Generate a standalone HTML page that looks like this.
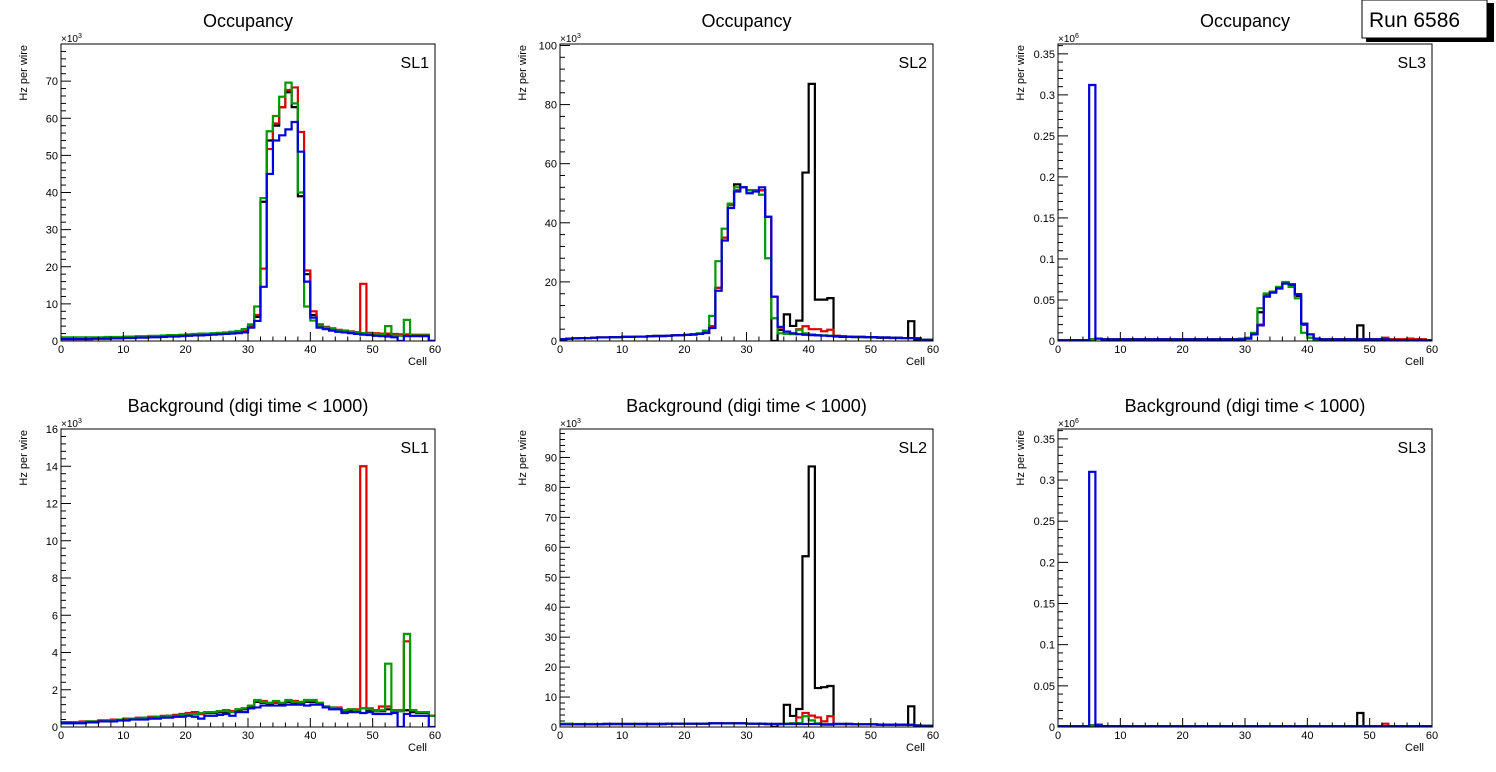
<!DOCTYPE html>
<html><head><meta charset="utf-8">
<style>
html,body{margin:0;padding:0;background:#fff;}
svg{display:block;font-family:"Liberation Sans",Arial,sans-serif;}
</style></head>
<body>
<svg id="root" width="1496" height="772" viewBox="0 0 1496 772" xmlns="http://www.w3.org/2000/svg">
<rect x="0" y="0" width="1496" height="772" fill="#fff"/>
<g>
<rect x="1366" y="3" width="128" height="39" fill="#000"/>
<rect x="1362" y="0" width="125" height="38" fill="#fff" stroke="#000" stroke-width="1"/>
<text x="1369" y="27" font-size="21" fill="#000">Run 6586</text>
</g>
</svg>
<script>
// ===== Data (60 cells per series) =====
const cells = [0,1,2,3,4,5,6,7,8,9,10,11,12,13,14,15,16,17,18,19,20,21,22,23,24,25,26,27,28,29,30,31,32,33,34,35,36,37,38,39,40,41,42,43,44,45,46,47,48,49,50,51,52,53,54,55,56,57,58,59];
const xTicks = [0,10,20,30,40,50,60];

// Panel 1 Occupancy SL1 (x10^3)
const occSL1Black = [0.7,0.7,0.7,0.7,0.7,0.8,0.8,0.8,0.9,0.9,1.0,1.0,1.1,1.1,1.2,1.2,1.3,1.4,1.4,1.5,1.6,1.7,1.7,1.8,1.9,2.0,2.1,2.2,2.3,2.6,3.8,6.5,37.5,54,58,63,67,63,39,18,7,4.3,3.6,3.2,2.9,2.7,2.5,2.3,2.1,2.0,1.9,1.8,1.8,1.7,1.6,1.6,1.6,1.6,1.6,0];
const occSL1Red = [0.7,0.7,0.7,0.7,0.7,0.8,0.8,0.8,0.9,0.9,1.0,1.0,1.1,1.1,1.2,1.2,1.3,1.4,1.4,1.5,1.6,1.7,1.8,1.9,2.0,2.1,2.2,2.3,2.5,3.0,4.0,7.0,19.5,51.7,58.6,63,67.6,68.3,56.3,19,8,4.5,3.8,3.4,3.0,2.8,2.6,2.4,15.4,2.2,2.1,2.0,2.0,1.9,1.8,1.8,1.7,1.7,1.7,0];
const occSL1Green = [1.0,1.0,1.0,1.0,1.0,1.0,1.0,1.1,1.1,1.1,1.2,1.2,1.3,1.3,1.4,1.4,1.5,1.6,1.6,1.7,1.8,1.9,2.0,2.0,2.1,2.2,2.3,2.5,2.7,3.2,4.5,9.3,38.5,56.5,60.6,65.8,69.6,64,40,9.3,5.5,4.2,3.6,3.2,2.9,2.7,2.5,2.3,2.1,2.0,1.9,1.8,4.0,1.5,1.4,5.7,1.5,1.5,1.5,0];
const occSL1Blue = [0.5,0.5,0.5,0.5,0.5,0.6,0.6,0.6,0.7,0.7,0.8,0.8,0.9,0.9,1.0,1.0,1.1,1.2,1.2,1.3,1.4,1.5,1.5,1.6,1.7,1.8,1.9,2.0,2.1,2.3,3.6,5.4,14.6,45,54,55.4,57,59,51,16,6.3,3.6,3.2,2.8,2.5,2.3,2.1,1.9,1.7,1.6,1.4,1.3,1.2,1.0,0,1.3,1.3,1.3,1.3,0];

// Panel 2 Occupancy SL2 (x10^3)
const occSL2Black = [0.6,0.8,0.9,1.0,1.0,1.1,1.2,1.2,1.3,1.3,1.4,1.4,1.5,1.5,1.6,1.7,1.7,1.8,1.9,2.0,2.1,2.2,2.4,2.8,5,18,35,46,53,52,51,51,51,42,0,3.7,9,5.1,6.9,57,87,14,14,14.5,1.5,1.4,1.4,1.3,1.3,1.2,1.2,1.1,1.1,1.0,1.0,1.0,6.7,0.5,0.4,0.4];
const occSL2Red = [0.6,0.8,0.9,1.0,1.0,1.1,1.2,1.2,1.3,1.3,1.4,1.4,1.5,1.5,1.6,1.7,1.7,1.8,1.9,2.0,2.1,2.2,2.4,2.8,5,18,35,46,51,52,51,51,51,42,15,4.5,3.2,2.6,4,5,4,4,3.3,3.8,1.8,1.6,1.5,1.4,1.4,1.3,1.3,1.2,1.2,1.1,1.1,1.0,1.0,0.9,0.4,0.4];
const occSL2Green = [0.6,0.8,0.9,1.0,1.0,1.1,1.2,1.2,1.3,1.3,1.4,1.4,1.5,1.5,1.6,1.7,1.7,1.8,1.9,2.0,2.1,2.3,2.6,3.5,8.5,27,38,46.5,52,52,51,51,49.5,28,7.7,2.6,2.4,2.3,3.8,2.6,2.2,2.0,1.9,1.8,1.7,1.6,1.5,1.4,1.4,1.3,1.3,1.2,1.2,1.1,1.1,1.0,1.0,0.9,0.4,0.4];
const occSL2Blue = [0.6,0.8,0.9,1.0,1.0,1.1,1.2,1.2,1.3,1.3,1.4,1.4,1.5,1.5,1.6,1.7,1.7,1.8,1.9,2.0,2.1,2.2,2.4,2.7,4.4,17,34,45,50.6,52,50,50.6,52,42,15,4.8,3.2,2.6,2.3,2.1,2.0,1.9,1.8,1.7,1.6,1.5,1.5,1.4,1.4,1.3,1.3,1.2,1.2,1.1,1.1,1.0,1.0,0.9,0.4,0.4];

// Panel 3 Occupancy SL3 (x10^6)
const occSL3Black = [0.001,0.001,0.001,0.001,0.001,0.002,0.003,0.002,0.002,0.002,0.002,0.002,0.002,0.002,0.002,0.002,0.002,0.002,0.002,0.002,0.002,0.002,0.002,0.002,0.002,0.002,0.002,0.002,0.002,0.002,0.003,0.009,0.035,0.056,0.06,0.065,0.071,0.068,0.055,0.02,0.008,0.003,0.002,0.002,0.002,0.002,0.002,0.002,0.019,0.002,0.002,0.002,0.002,0.002,0.002,0.002,0.002,0.002,0.002,0.001];
const occSL3Red = [0.001,0.001,0.001,0.001,0.001,0.002,0.003,0.002,0.002,0.002,0.002,0.002,0.002,0.002,0.002,0.002,0.002,0.002,0.002,0.002,0.002,0.002,0.002,0.002,0.002,0.002,0.002,0.002,0.002,0.002,0.003,0.008,0.02,0.055,0.06,0.065,0.07,0.069,0.057,0.021,0.008,0.003,0.002,0.002,0.002,0.002,0.002,0.002,0.002,0.002,0.002,0.002,0.004,0.002,0.002,0.002,0.003,0.002,0.002,0.001];
const occSL3Green = [0.001,0.001,0.001,0.001,0.001,0.002,0.003,0.002,0.002,0.002,0.002,0.002,0.002,0.002,0.002,0.002,0.002,0.002,0.002,0.002,0.002,0.002,0.002,0.002,0.002,0.002,0.002,0.002,0.002,0.003,0.004,0.01,0.04,0.058,0.06,0.066,0.072,0.066,0.052,0.01,0.004,0.002,0.002,0.002,0.002,0,0.002,0.002,0.002,0.002,0.002,0.002,0.002,0.001,0.001,0.001,0.001,0.001,0.001,0.001];
const occSL3Blue = [0.001,0.001,0.001,0.001,0.001,0.312,0.003,0.002,0.002,0.002,0.002,0.002,0.002,0.002,0.002,0.002,0.002,0.002,0.002,0.002,0.002,0.002,0.002,0.002,0.002,0.002,0.002,0.002,0.002,0.002,0.003,0.008,0.019,0.054,0.059,0.064,0.07,0.069,0.057,0.021,0.008,0.003,0.002,0.002,0.002,0.002,0.002,0.002,0.002,0.002,0.002,0.002,0.002,0.001,0.001,0.001,0.001,0.001,0.001,0.001];

// Panel 4 Background SL1 (x10^3)
const bkgSL1Black = [0.25,0.25,0.25,0.25,0.3,0.3,0.35,0.35,0.35,0.4,0.4,0.45,0.45,0.5,0.5,0.55,0.55,0.6,0.6,0.65,0.7,0.7,0.7,0.75,0.75,0.8,0.8,0.85,0.9,0.95,1.1,1.35,1.3,1.25,1.3,1.25,1.35,1.3,1.3,1.35,1.35,1.25,1.05,1.0,1.0,0.85,0.9,0.9,1.0,0.9,0.85,0.85,0.95,0.85,0.85,0.9,0.8,0.75,0.75,0.6];
const bkgSL1Red = [0.25,0.25,0.25,0.3,0.3,0.3,0.35,0.35,0.4,0.4,0.45,0.45,0.5,0.5,0.55,0.55,0.6,0.6,0.65,0.7,0.75,0.8,0.7,0.8,0.8,0.85,0.9,0.85,0.95,1.0,1.15,1.4,1.4,1.3,1.3,1.3,1.4,1.4,1.3,1.4,1.4,1.3,1.1,1.05,1.05,0.9,0.95,0.95,14,1.0,0.9,1.1,1.1,0.9,0.9,4.6,0.9,0.8,0.8,0.6];
const bkgSL1Green = [0.2,0.2,0.25,0.25,0.3,0.3,0.3,0.35,0.35,0.4,0.4,0.45,0.45,0.5,0.5,0.55,0.55,0.6,0.6,0.65,0.7,0.7,0.75,0.8,0.8,0.85,0.85,0.8,0.95,1.0,1.15,1.45,1.35,1.3,1.4,1.3,1.45,1.35,1.35,1.45,1.45,1.3,1.1,1.05,1.0,0.9,0.95,0.9,1.0,0.95,0.85,0.9,3.4,0.85,0.85,5.0,0.9,0.8,0.8,0.6];
const bkgSL1Blue = [0.2,0.2,0.2,0.2,0.25,0.25,0.3,0.3,0.3,0.35,0.35,0.4,0.4,0.4,0.45,0.45,0.5,0.5,0.55,0.55,0.6,0.55,0.45,0.6,0.6,0.65,0.7,0.6,0.8,0.8,1.0,1.05,1.15,1.15,1.15,1.15,1.2,1.2,1.2,1.15,1.2,1.2,1.05,0.95,0.95,0.75,0.8,0.8,0.75,0.8,0.7,0.7,0.7,0.75,0,0.7,0.6,0.6,0.6,0];

// Panel 5 Background SL2 (x10^3)
const bkgSL2Black = [0.9,0.9,0.9,0.9,0.9,0.9,0.9,1.0,1.0,1.0,1.0,1.0,1.0,1.0,1.0,1.0,1.0,1.1,1.1,1.1,1.1,1.1,1.1,1.1,1.2,1.2,1.2,1.2,1.2,1.2,1.1,1.1,1.1,1.0,0,1.0,7.4,3.7,6,57,87,13,13.3,13.7,1.0,1.0,1.0,0.9,0.9,0.9,0.9,0.8,0.8,0.8,0.8,0.8,6.9,0.5,0.4,0.4];
const bkgSL2Red = [0.9,0.9,0.9,0.9,0.9,0.9,0.9,1.0,1.0,1.0,1.0,1.0,1.0,1.0,1.0,1.0,1.0,1.1,1.1,1.1,1.1,1.1,1.1,1.1,1.2,1.2,1.2,1.2,1.2,1.2,1.1,1.1,1.1,1.0,1.0,1.0,1.1,1.2,3.2,4.7,3.8,3.2,1.9,3.6,1.0,1.0,1.0,0.9,0.9,0.9,0.9,0.8,0.8,0.8,0.8,0.8,0.7,0.5,0.4,0.4];
const bkgSL2Green = [1.1,1.1,1.0,1.0,1.0,1.0,1.0,1.0,1.0,1.0,1.0,1.0,1.0,1.0,1.0,1.0,1.0,1.1,1.1,1.1,1.1,1.1,1.1,1.1,1.2,1.2,1.2,1.2,1.2,1.2,1.1,1.1,1.1,1.0,1.0,1.0,1.1,1.2,1.3,3.6,2.2,1.2,1.0,1.0,1.0,1.0,1.0,0.9,0.9,0.9,0.9,0.8,0.8,0.8,0.8,0.8,0.7,0.5,0.4,0.4];
const bkgSL2Blue = [0.9,0.9,0.9,0.9,0.9,0.9,0.9,1.0,1.0,1.0,1.0,1.0,1.0,1.0,1.0,1.0,1.0,1.1,1.1,1.1,1.1,1.1,1.1,1.1,1.2,1.2,1.2,1.2,1.2,1.2,1.1,1.1,1.1,1.0,1.0,1.0,1.0,1.0,1.0,1.0,1.0,1.0,0.8,0.8,1.0,1.0,1.0,0.9,0.9,0.9,0.9,0.8,0.8,0.8,0.8,0.8,0.7,0.5,0.4,0.4];

// Panel 6 Background SL3 (x10^6)
const bkgSL3Black = [0.001,0.001,0.001,0.001,0.001,0.002,0.002,0.001,0.001,0.001,0.001,0.001,0.001,0.001,0.001,0.001,0.001,0.001,0.001,0.001,0.001,0.001,0.001,0.001,0.001,0.001,0.001,0.001,0.001,0.001,0.001,0.001,0.001,0.001,0.001,0.001,0.001,0.001,0.001,0.001,0.001,0.001,0.001,0.001,0.001,0.001,0.001,0.001,0.017,0.001,0.001,0.001,0.001,0.001,0.001,0.001,0.001,0.001,0.001,0.001];
const bkgSL3Red = [0.001,0.001,0.001,0.001,0.001,0.002,0.002,0.001,0.001,0.001,0.001,0.001,0.001,0.001,0.001,0.001,0.001,0.001,0.001,0.001,0.001,0.001,0.001,0.001,0.001,0.001,0.001,0.001,0.001,0.001,0.001,0.001,0.001,0.001,0.001,0.001,0.001,0.001,0.001,0.001,0.001,0.001,0.001,0.001,0.001,0.001,0.001,0.001,0.001,0.001,0.001,0.001,0.004,0.001,0.001,0.001,0.001,0.001,0.001,0.001];
const bkgSL3Green = [0.001,0.001,0.001,0.001,0.001,0.002,0.003,0.001,0.001,0.001,0.001,0.001,0.001,0.001,0.001,0.001,0.001,0.001,0.001,0.001,0.001,0.001,0.001,0.001,0.001,0.001,0.001,0.001,0.001,0.001,0.001,0.001,0.001,0.001,0.001,0.001,0.001,0.001,0.001,0.001,0.001,0.001,0.001,0.001,0.001,0.001,0.001,0.001,0.001,0.001,0.001,0.001,0.001,0.001,0.001,0.001,0.001,0.001,0.001,0.001];
const bkgSL3Blue = [0.001,0.001,0.001,0.001,0.001,0.31,0.002,0.001,0.001,0.001,0.001,0.001,0.001,0.001,0.001,0.001,0.001,0.001,0.001,0.001,0.001,0.001,0.001,0.001,0.001,0.001,0.001,0.001,0.001,0.001,0.001,0.001,0.001,0.001,0.001,0.001,0.001,0.001,0.001,0.001,0.001,0.001,0.001,0.001,0.001,0.001,0.001,0.001,0.001,0.001,0.001,0.001,0.001,0.001,0.001,0.001,0.001,0.001,0.001,0.001];

// y tick labels
const yTicksP1 = ["0","10","20","30","40","50","60","70"];
const yTicksP2 = ["0","20","40","60","80","100"];
const yTicksP3 = ["0","0.05","0.1","0.15","0.2","0.25","0.3","0.35"];
const yTicksP4 = ["0","2","4","6","8","10","12","14","16"];
const yTicksP5 = ["0","10","20","30","40","50","60","70","80","90"];
const yTicksP6 = ["0","0.05","0.1","0.15","0.2","0.25","0.3","0.35"];

const seriesColors = ["#000000","#dd0000","#009900","#0000dd"];
const seriesNames = ["black","red","green","blue"];

const panels = [
 {id:"occupancy-sl1",title:"Occupancy",sl:"SL1",x0:61,x1:435,y0:44,y1:341,ymax:80,major:10,minor:2,exp:"3",ticks:yTicksP1,series:[occSL1Black,occSL1Red,occSL1Green,occSL1Blue]},
 {id:"occupancy-sl2",title:"Occupancy",sl:"SL2",x0:560,x1:933,y0:44,y1:341,ymax:100.5,major:20,minor:4,exp:"3",ticks:yTicksP2,series:[occSL2Black,occSL2Red,occSL2Green,occSL2Blue]},
 {id:"occupancy-sl3",title:"Occupancy",sl:"SL3",x0:1058,x1:1432,y0:44,y1:341,ymax:0.362,major:0.05,minor:0.01,exp:"6",ticks:yTicksP3,series:[occSL3Black,occSL3Red,occSL3Green,occSL3Blue]},
 {id:"background-sl1",title:"Background (digi time < 1000)",sl:"SL1",x0:61,x1:435,y0:429,y1:727,ymax:16,major:2,minor:0.4,exp:"3",ticks:yTicksP4,series:[bkgSL1Black,bkgSL1Red,bkgSL1Green,bkgSL1Blue]},
 {id:"background-sl2",title:"Background (digi time < 1000)",sl:"SL2",x0:560,x1:933,y0:429,y1:727,ymax:99.5,major:10,minor:2,exp:"3",ticks:yTicksP5,series:[bkgSL2Black,bkgSL2Red,bkgSL2Green,bkgSL2Blue]},
 {id:"background-sl3",title:"Background (digi time < 1000)",sl:"SL3",x0:1058,x1:1432,y0:429,y1:727,ymax:0.362,major:0.05,minor:0.01,exp:"6",ticks:yTicksP6,series:[bkgSL3Black,bkgSL3Red,bkgSL3Green,bkgSL3Blue]}
];

const NS="http://www.w3.org/2000/svg";
const root=document.getElementById('root');
const runBox=root.lastElementChild;
function mk(tag,attrs,parent){const e=document.createElementNS(NS,tag);for(const k in attrs)e.setAttribute(k,attrs[k]);parent.appendChild(e);return e;}

panels.forEach((p,pi)=>{
  const g=mk('g',{},root);
  
  
  const xs=c=>p.x0+(c/60)*(p.x1-p.x0);
  const ys=v=>p.y1-(Math.max(0,Math.min(v,p.ymax))/p.ymax)*(p.y1-p.y0);
  const cx=(p.x0+p.x1)/2;
  // title
  const t=mk('text',{x:cx,y:p.y0-17,'font-size':18,'text-anchor':'middle',fill:'#000'},g);
  t.textContent=p.title;
  
  
  // clip
  const cp=mk('clipPath',{id:'clip'+pi},g);
  mk('rect',{x:p.x0,y:p.y0,width:p.x1-p.x0,height:p.y1-p.y0},cp);
  // series
  const sg=mk('g',{'clip-path':'url(#clip'+pi+')'},g);
  p.series.forEach((arr,si)=>{
    let d='M'+xs(cells[0])+','+ys(arr[0]);
    for(let i=0;i<cells.length;i++){
      if(i>0)d+=' V'+ys(arr[i]);
      d+=' H'+xs(cells[i]+1);
    }
    const path=mk('path',{d:d,fill:'none',stroke:seriesColors[si],'stroke-width':2.2,'stroke-linejoin':'miter'},sg);
    
    
  });
  // frame
  const fr=mk('rect',{x:p.x0,y:p.y0,width:p.x1-p.x0,height:p.y1-p.y0,fill:'none',stroke:'#000','stroke-width':1},g);
  
  
  // x ticks
  const xa=mk('g',{},g);
  
  
  for(let c=0;c<=60;c+=2){
    const isMaj=(c%10===0);
    mk('line',{x1:xs(c),x2:xs(c),y1:p.y1,y2:p.y1-(isMaj?9:4.5),stroke:'#000','stroke-width':1},xa);
  }
  xTicks.forEach(v=>{
    const l=mk('text',{x:xs(v),y:p.y1+12,'font-size':11,'text-anchor':'middle',fill:'#000'},xa);
    l.textContent=String(v);
  });
  const xl=mk('text',{x:p.x1-8,y:p.y1+24,'font-size':11,'text-anchor':'end',fill:'#000'},xa);
  xl.textContent='Cell';
  
  
  // y ticks
  const ya=mk('g',{},g);
  
  
  const nMin=Math.floor(p.ymax/p.minor+1e-6);
  for(let k=0;k<=nMin;k++){
    const v=k*p.minor;
    const isMaj=Math.abs(v/p.major-Math.round(v/p.major))<1e-6;
    mk('line',{x1:p.x0,x2:p.x0+(isMaj?10:5),y1:ys(v),y2:ys(v),stroke:'#000','stroke-width':1},ya);
  }
  p.ticks.forEach((lab,k)=>{
    const v=k*p.major;
    const l=mk('text',{x:p.x0-3,y:ys(v)+4,'font-size':11,'text-anchor':'end',fill:'#000'},ya);
    l.textContent=lab;
  });
  const yl=mk('text',{x:0,y:0,'font-size':11,'text-anchor':'end',fill:'#000',transform:'translate('+(p.x0-34)+','+(p.y0+1)+') rotate(-90)'},ya);
  yl.textContent='Hz per wire';
  
  
  const ex=mk('text',{x:p.x0,y:p.y0-2,'font-size':10,fill:'#000'},ya);
  ex.textContent='×10';
  const sup=mk('tspan',{dy:-4,'font-size':7},ex);
  sup.textContent=p.exp;
  
  
  // SL label
  const sl=mk('text',{x:p.x1-6,y:p.y0+24,'font-size':16,'text-anchor':'end',fill:'#000'},g);
  sl.textContent=p.sl;
  
  
});
root.appendChild(runBox);
</script>
</body></html>
